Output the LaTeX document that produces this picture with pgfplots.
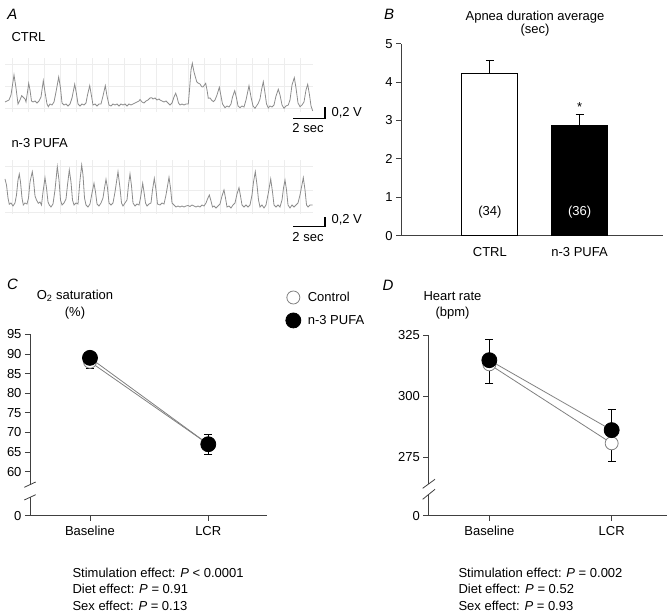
\documentclass[border=0pt]{standalone}
\usepackage{fontspec}
\setmainfont{Liberation Sans}
\usepackage{pgfplots}
\pgfplotsset{compat=1.18}
\newcommand{\fs}{\fontsize{13bp}{15bp}\selectfont}
\pgfplotsset{
  panel/.style={scale only axis, anchor=south west,
    axis x line*=bottom, axis y line*=left,
    tick align=outside, major tick length=5bp,
    axis line style={black!75, line width=0.8bp},
    tick style={black!75, line width=0.8bp},
    tick label style={font=\fs},
    /pgf/number format/assume math mode=true, clip=false},
  trace/.style={scale only axis, anchor=south west, y dir=reverse,
    axis line style={draw=none}, xticklabels={}, yticklabels={},
    major tick length=0pt, grid=major, grid style={black!7, line width=0.5bp},
    xtick={12,28,...,310}, clip=false},
}
\begin{document}
\begin{tikzpicture}[x=1bp,y=1bp,font=\fs]
\useasboundingbox (0,0) rectangle (672,615);

% ---------------- Panel A ----------------
\node[font=\fontsize{15bp}{15bp}\selectfont\itshape] at (12.5,601) {A};
\node[anchor=base west] at (8,573) {CTRL};
\node[anchor=base west] at (8,467) {n-3 PUFA};

\begin{axis}[trace, at={(5bp,503bp)}, width=308bp, height=54bp,
  xmin=5, xmax=313, ymin=58, ymax=112, ytick={64,86,108}]
\addplot[black!45, line width=0.8bp] coordinates {
(5,102)(7,101)(9,100)(11,95)(14,75)(16,88)(18,104)(20,100)(21.7,95.7)(23,97)(25,99)(26,102)(27.5,92)(28.7,83.3)(30,90)(31.5,101)(33,102)(35,101)(37,103)(39,101)(41,97)(43.3,80.7)(45,92)(47,104)(48.3,106.7)(50,104)(52,105)(54,102)(56,92)(58.7,77)(60.5,88)(62,103)(64,105)(66,104)(68,106)(70,104)(72,98)(74.7,84.3)(76.5,94)(78,104)(80,106)(82,104)(84,105)(86,103)(87.5,95)(89.7,85.7)(91.5,96)(93,105)(95,104)(97,106)(99,104)(101,104)(103,96)(105.3,85.7)(107,96)(109,105)(111,106)(113,104)(115,105)(117,104)(119,106)(121,104)(123,105)(125,104)(127,106)(129,104)(131,105)(133,104)(135,103)(137,102)(139,101)(140,99.5)(142,102)(144,103)(146,101)(148,100)(150,98)(151.7,97.7)(153,99)(155,98)(157,100)(159,99)(160,100)(162,101)(164,102)(166,101)(168,103)(170,105)(172,103)(174,97)(175.7,93.3)(177,97)(178.5,103)(180,105)(182,104)(184,105)(186,104)(188.3,104)(189.5,90)(191,70)(192.3,63.3)(194,72)(196.7,81.7)(198,83)(200,84)(201.7,86.7)(203,87)(204.5,85)(205.7,83.3)(207,90)(208.3,98.3)(210,98)(211.5,100)(213.3,101.7)(215,100)(217,95)(219.3,87.3)(221,96)(222.5,104)(225,107.7)(227,106)(229,107)(231,104)(232.5,97)(234.7,90.7)(236.5,98)(238,106)(240,107.7)(242,106)(244,107)(246,100)(249,85.7)(251,97)(253,106)(255,108.3)(256.5,106)(258.3,103.3)(260,99)(261.5,90)(263.3,81.7)(265,93)(266.5,104)(268.3,108)(270,106)(272,107)(274,105)(276,96)(278.3,89.3)(280,95)(282,105)(284,108.3)(286,106)(288.3,105)(290,100)(292,85)(294.3,77.7)(296,88)(298,103)(300,106.7)(302,105)(304,102)(306,90)(307.7,84.3)(309.5,95)(311,106)(312.7,111)
};
\end{axis}

\begin{axis}[trace, at={(5bp,401bp)}, width=308bp, height=54bp,
  xmin=5, xmax=313, ymin=160, ymax=214, ytick={166,190,212}]
\addplot[black!45, line width=0.8bp] coordinates {
(5,179)(6.5,185)(8,198)(9.3,204.3)(11,203)(13,206)(15,203)(16.5,195)(18,180)(19.3,174)(20.5,182)(22,198)(23.3,205)(25,203)(27,204)(28.5,198)(30,182)(32.3,171.7)(33.5,180)(35,196)(36.5,200)(38.3,203.3)(40,202)(41.5,205)(43,192)(45,177.7)(46.5,188)(48,202)(49.3,205)(51,207)(53,204)(55,190)(57.3,166.7)(59,180)(60.5,200)(62,205)(64,203)(66,199)(67.5,185)(69.3,170)(71,182)(72.5,200)(74,205)(76,203)(78,204)(80,180)(81.7,165)(83,175)(84.5,198)(86,205)(88,207)(90,204)(92,193)(94,183.3)(95.5,192)(97,204)(99,206)(101,203)(103,198)(104.5,188)(106,179.3)(107.5,188)(109,203)(111,205)(113,203)(115,192)(118,171.7)(120,188)(121.5,203)(123,206)(125,203)(127,200)(128.5,185)(130,174)(131.5,186)(133,203)(135,206)(137,204)(139,205)(140.5,198)(142.7,183.3)(144,192)(145.5,203)(147,206)(149,204)(151,203)(152.5,190)(154.3,178.3)(156,190)(157.5,204)(160,205)(162,203)(164,204)(166,195)(169,177.3)(170.5,188)(172,203)(174,205)(176,207)(178,206)(180,207)(182,206)(184,207)(186,206)(188,205.5)(190,206.5)(192,205)(194,206)(196,207)(198,206)(200,207)(202,205)(204,206)(206,203)(207.5,199)(209.3,195)(211,201)(212.5,207)(214,206)(216,208)(218,206)(220,204)(222,196)(224,190)(225.5,198)(227,207)(229,206)(231,208)(233,205)(235,203)(237,194)(239,187.7)(240.5,196)(242,205)(244,207)(246,205)(248,207)(250,205)(252,195)(253.5,182)(255.3,171.7)(257,185)(258.5,200)(260,207)(262,205)(264,208)(266,205)(268.5,192)(270.7,179)(272.5,192)(274,205)(276,207)(278,205)(280,207)(282,200)(283.5,188)(285,180)(286.5,190)(288,205)(290,208)(292,205)(294,207)(296,205)(298,203)(300,195)(303.3,177.7)(305,190)(306.5,205)(308,207)(310,205)(312.7,205)
};
\end{axis}

% scale bars
\draw[line width=1.5bp] (293.3,496.7) -- (325,496.7) -- (325,508.3);
\node[anchor=west] at (328,502) {0,2 V};
\node at (308,487.3) {2 sec};
\draw[line width=1.5bp] (293.3,388.3) -- (325,388.3) -- (325,398.3);
\node[anchor=west] at (328,395) {0,2 V};
\node at (308,378.3) {2 sec};

% ---------------- Panel B ----------------
\node[font=\fontsize{15bp}{15bp}\selectfont\itshape] at (389,601) {B};
\node[anchor=base] at (535,594) {Apnea duration average};
\node[anchor=base] at (535,581.5) {(sec)};
\begin{axis}[panel, at={(401bp,379.3bp)}, width=262bp, height=192bp,
  xmin=-0.99, xmax=1.93, ymin=0, ymax=5,
  xtick={0,1}, xticklabels={CTRL, n-3 PUFA}, xtick style={draw=none},
  xticklabel style={yshift=-3bp},
  ytick={0,1,2,3,4,5}]
\addplot[ybar, bar width=56bp, bar shift=0pt, fill=white, draw=black, line width=0.8bp,
  error bars/.cd, y dir=plus, y explicit,
  error bar style={black, line width=0.8bp},
  error mark options={rotate=90, black, mark size=4bp, line width=0.8bp}]
  coordinates {(0,4.23) +- (0,0.34)};
\addplot[ybar, bar width=56bp, bar shift=0pt, fill=black, draw=black, line width=0.8bp,
  error bars/.cd, y dir=plus, y explicit,
  error bar style={black, line width=0.8bp},
  error mark options={rotate=90, black, mark size=4bp, line width=0.8bp}]
  coordinates {(1,2.86) +- (0,0.30)};
\node at (axis cs:0,0.62) {(34)};
\node[white] at (axis cs:1,0.62) {(36)};
\node[anchor=base] at (axis cs:1,3.24) {*};
\end{axis}

% ---------------- Panel C ----------------
\node[font=\fontsize{15bp}{15bp}\selectfont\itshape] at (12.5,331) {C};
\node[anchor=base] at (75,315.7) {O\textsubscript{2} saturation};
\node[anchor=base] at (75,298) {(\%)};
\begin{axis}[panel, at={(30bp,99.3bp)}, width=236.7bp, height=181.4bp,
  xmin=-0.507, xmax=1.494, ymin=48.8, ymax=95,
  xtick={0,1}, xticklabels={Baseline, LCR},
  xticklabel style={yshift=-2bp},
  ytick={48.8,60,65,70,75,80,85,90,95},
  yticklabels={0,60,65,70,75,80,85,90,95},
  legend style={at={(1.08,1.245)}, anchor=north west, draw=none, fill=none,
    font=\fs, row sep=8bp, inner sep=0pt},
  legend cell align=left,
  legend image code/.code={\draw[#1] plot coordinates {(0bp,0bp)};}]
% error bars (Control: minus, n-3 PUFA: plus)
\addplot[draw=none, mark=none, forget plot,
  error bars/.cd, y dir=minus, y explicit,
  error bar style={draw=black, line width=0.7bp},
  error mark options={rotate=90, draw=black, mark size=4bp, line width=0.7bp}]
  coordinates {(0,88.0) +- (0,1.7) (1,67.0) +- (0,2.6)};
\addplot[draw=none, mark=none, forget plot,
  error bars/.cd, y dir=plus, y explicit,
  error bar style={draw=black, line width=0.7bp},
  error mark options={rotate=90, draw=black, mark size=4bp, line width=0.7bp}]
  coordinates {(0,89.0) +- (0,1.0) (1,67.0) +- (0,2.5)};
\addplot[black!50, line width=0.8bp, mark=*, mark size=6.5bp,
  mark options={fill=white, draw=black!50, line width=0.8bp}]
  coordinates {(0,88.0) (1,67.0)};
\addlegendentry{\hspace{5bp}Control}
\addplot[black!50, line width=0.8bp, mark=*, mark size=7.5bp,
  mark options={fill=black, draw=black}]
  coordinates {(0,89.0) (1,67.0)};
\addlegendentry{\hspace{5bp}n-3 PUFA}
\end{axis}
\fill[white] (26,118) rectangle (34,130);
\draw[black!75, line width=0.8bp] (24.3,127.7) -- (35.7,133);
\draw[black!75, line width=0.8bp] (24.3,115) -- (35.7,120.3);
\node[anchor=base west] at (69,37.7) {Stimulation effect: \textit{P} < 0.0001};
\node[anchor=base west] at (69,21) {Diet effect: \textit{P} = 0.91};
\node[anchor=base west] at (69,4.3) {Sex effect: \textit{P} = 0.13};

% ---------------- Panel D ----------------
\node[font=\fontsize{15bp}{15bp}\selectfont\itshape] at (388,330) {D};
\node[anchor=base] at (452.5,314) {Heart rate};
\node[anchor=base] at (452.5,298) {(bpm)};
\begin{axis}[panel, at={(428.3bp,99.3bp)}, width=238.4bp, height=180.7bp,
  xmin=-0.499, xmax=1.45, ymin=251.1, ymax=325,
  xtick={0,1}, xticklabels={Baseline, LCR},
  xticklabel style={yshift=-2bp},
  ytick={251.1,275,300,325},
  yticklabels={0,275,300,325}]
\addplot[draw=none, mark=none, forget plot,
  error bars/.cd, y dir=minus, y explicit,
  error bar style={draw=black, line width=0.7bp},
  error mark options={rotate=90, draw=black, mark size=4bp, line width=0.7bp}]
  coordinates {(0,313.0) +- (0,7.8) (1,280.7) +- (0,7.3)};
\addplot[draw=none, mark=none, forget plot,
  error bars/.cd, y dir=plus, y explicit,
  error bar style={draw=black, line width=0.7bp},
  error mark options={rotate=90, draw=black, mark size=4bp, line width=0.7bp}]
  coordinates {(0,314.7) +- (0,8.6) (1,286.1) +- (0,8.5)};
\addplot[black!50, line width=0.8bp, mark=*, mark size=6.5bp,
  mark options={fill=white, draw=black!50, line width=0.8bp}]
  coordinates {(0,313.0) (1,280.7)};
\addplot[black!50, line width=0.8bp, mark=*, mark size=7.5bp,
  mark options={fill=black, draw=black}]
  coordinates {(0,314.7) (1,286.1)};
\end{axis}
\fill[white] (425,121) rectangle (432,131);
\draw[black!75, line width=0.8bp] (422.7,126.7) -- (435,135.7);
\draw[black!75, line width=0.8bp] (422.7,115.7) -- (435,125.7);
\node[anchor=base west] at (455,37.7) {Stimulation effect: \textit{P} = 0.002};
\node[anchor=base west] at (455,21) {Diet effect: \textit{P} = 0.52};
\node[anchor=base west] at (455,4.3) {Sex effect: \textit{P} = 0.93};
\end{tikzpicture}
\end{document}
